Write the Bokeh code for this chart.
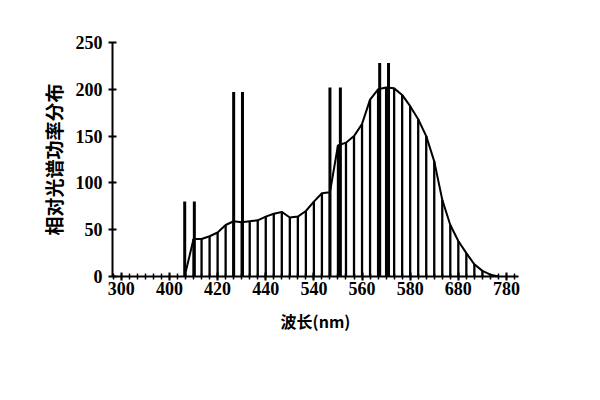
from bokeh.plotting import figure
from bokeh.models import FixedTicker
from bokeh.embed import file_html
from bokeh.resources import INLINE

# 10 nm bands and relative spectral power (envelope curve)
wavelengths = [380, 390, 400, 410, 420, 430, 440, 450, 460, 470,
               480, 490, 500, 510, 520, 530, 540, 550, 560, 570,
               580, 590, 600, 610, 620, 630, 640, 650, 660, 670,
               680, 690, 700, 710, 720, 730, 740, 750, 760, 770]
rel_power = [4, 40, 40, 43, 47, 55, 59, 58, 59, 60,
             64, 67, 69, 63, 64, 70, 80, 89, 90, 140,
             143, 150, 163, 189, 200, 202, 201, 194, 182, 168,
             150, 123, 82, 55, 38, 25, 13, 6, 2, 0]

# mercury line bands (drawn as tall narrow bars)
spike_left = [379, 440, 560, 622]
spike_right = [391, 451, 573, 633]
spike_height = [80, 197, 202, 228]

x_tick_pos = [300, 360, 420, 480, 540, 600, 660, 720, 780]
x_tick_labels = ["300", "400", "420", "440", "540", "560", "580", "680", "780"]
y_ticks = [0, 50, 100, 150, 200, 250]

p = figure(width=584, height=384, output_backend="svg", toolbar_location=None,
           x_range=(289, 795), y_range=(0, 250),
           min_border_left=112, min_border_right=66,
           min_border_top=42, min_border_bottom=108)
p.outline_line_color = None
p.grid.visible = False
p.background_fill_color = "white"
p.border_fill_color = "white"

# histogram lines
p.segment(x0=wavelengths, y0=[0] * len(wavelengths), x1=wavelengths, y1=rel_power,
          line_color="black", line_width=2.3)
# envelope curve
p.line(wavelengths, rel_power, line_color="black", line_width=2)
# spikes
p.segment(x0=spike_left, y0=[0] * len(spike_left), x1=spike_left, y1=spike_height,
          line_color="black", line_width=3)
p.segment(x0=spike_right, y0=[0] * len(spike_right), x1=spike_right, y1=spike_height,
          line_color="black", line_width=3)

p.xaxis.ticker = FixedTicker(ticks=x_tick_pos, minor_ticks=list(range(290, 800, 10)))
p.xaxis.major_label_overrides = dict(zip(x_tick_pos, x_tick_labels))
p.yaxis.ticker = FixedTicker(ticks=y_ticks)

for ax in (p.xaxis[0], p.yaxis[0]):
    ax.axis_line_color = "black"
    ax.axis_line_width = 2
    ax.major_tick_line_color = "black"
    ax.major_tick_line_width = 2
    ax.major_tick_in = 4
    ax.major_tick_out = 4
    ax.minor_tick_line_color = "black"
    ax.minor_tick_line_width = 1.5
    ax.minor_tick_in = 3
    ax.minor_tick_out = 3
    ax.major_label_text_font = "Liberation Sans Narrow"
    ax.major_label_text_font_size = "18px"
    ax.major_label_text_font_style = "bold"
    ax.major_label_text_color = "black"
    ax.axis_label_text_font = "Noto Sans CJK SC"
    ax.axis_label_text_font_style = "bold"
    ax.axis_label_text_color = "black"

p.yaxis.minor_tick_line_color = None
p.xaxis.major_label_standoff = 1
p.yaxis.major_label_standoff = 6

p.xaxis.axis_label = "波长(nm)"
p.xaxis.axis_label_text_font_size = "16px"
p.xaxis.axis_label_standoff = 11
p.yaxis.axis_label = "相对光谱功率分布"
p.yaxis.axis_label_text_font_size = "19px"
p.yaxis.axis_label_standoff = 6

open("out.html", "w").write(file_html(p, INLINE))
